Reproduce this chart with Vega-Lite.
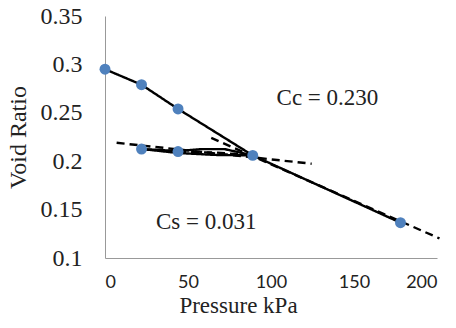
{
  "$schema": "https://vega.github.io/schema/vega-lite/v6.json",
  "width": 332,
  "height": 242,
  "autosize": {"type": "none"},
  "padding": {"left": 105, "top": 16, "right": 19, "bottom": 70},
  "background": "white",
  "config": {"view": {"stroke": null}},
  "datasets": {
    "pts": [
      {"p": 0, "e": 0.295},
      {"p": 22, "e": 0.279},
      {"p": 44, "e": 0.254},
      {"p": 89, "e": 0.206},
      {"p": 178, "e": 0.1365},
      {"p": 44, "e": 0.21},
      {"p": 22, "e": 0.2126}
    ],
    "lines": [
      {"series": "loading", "kind": "measured", "o": 1, "p": 0, "e": 0.295},
      {"series": "loading", "kind": "measured", "o": 2, "p": 22, "e": 0.279},
      {"series": "loading", "kind": "measured", "o": 3, "p": 44, "e": 0.254},
      {"series": "loading", "kind": "measured", "o": 4, "p": 89, "e": 0.206},
      {"series": "loading", "kind": "measured", "o": 5, "p": 178, "e": 0.1365},
      {"series": "unloading", "kind": "measured", "o": 1, "p": 89, "e": 0.206},
      {"series": "unloading", "kind": "measured", "o": 2, "p": 66, "e": 0.2065},
      {"series": "unloading", "kind": "measured", "o": 3, "p": 44, "e": 0.2085},
      {"series": "unloading", "kind": "measured", "o": 4, "p": 22, "e": 0.2126},
      {"series": "reloading", "kind": "measured", "o": 1, "p": 22, "e": 0.2126},
      {"series": "reloading", "kind": "measured", "o": 2, "p": 44, "e": 0.2105},
      {"series": "reloading", "kind": "measured", "o": 3, "p": 58, "e": 0.2125},
      {"series": "reloading", "kind": "measured", "o": 4, "p": 72, "e": 0.2125},
      {"series": "reloading", "kind": "measured", "o": 5, "p": 89, "e": 0.206},
      {"series": "Cc line", "kind": "fit", "o": 1, "p": 64, "e": 0.224},
      {"series": "Cc line", "kind": "fit", "o": 2, "p": 201.5, "e": 0.1202},
      {"series": "Cs line", "kind": "fit", "o": 1, "p": 7, "e": 0.219},
      {"series": "Cs line", "kind": "fit", "o": 2, "p": 124.5, "e": 0.1974},
      {"series": "mid line", "kind": "fit", "o": 1, "p": 44, "e": 0.2095},
      {"series": "mid line", "kind": "fit", "o": 2, "p": 66, "e": 0.209},
      {"series": "mid line", "kind": "fit", "o": 3, "p": 89, "e": 0.206}
    ],
    "labels": [
      {"p": 134, "e": 0.265, "text": "Cc = 0.230"},
      {"p": 61, "e": 0.137, "text": "Cs = 0.031"}
    ]
  },
  "layer": [
    {
      "data": {"name": "lines"},
      "mark": {"type": "line", "color": "black", "strokeWidth": 2.4},
      "encoding": {
        "x": {
          "field": "p", "type": "quantitative",
          "scale": {"domain": [0, 200], "nice": false},
          "axis": {
            "values": [0, 50, 100, 150, 200],
            "title": "Pressure kPa",
            "titleFont": "Liberation Serif", "titleFontSize": 23, "titleFontWeight": "normal", "titleColor": "#222",
            "titleX": 133, "titleY": 47, "titleAnchor": null, "titleAlign": "center", "titleBaseline": "middle",
            "labelFont": "Lato", "labelFontSize": 18, "labelColor": "#222",
            "labelPadding": 15,
            "ticks": false, "grid": false,
            "domainColor": "#999", "domainWidth": 1
          }
        },
        "y": {
          "field": "e", "type": "quantitative",
          "scale": {"domain": [0.1, 0.35], "nice": false},
          "axis": {
            "values": [0.1, 0.15, 0.2, 0.25, 0.3, 0.35],
            "format": "~g",
            "title": "Void Ratio",
            "titleFont": "Liberation Serif", "titleFontSize": 24, "titleFontWeight": "normal", "titleColor": "#222",
            "titleX": -87, "titleY": 121, "titleAnchor": null, "titleAlign": "center", "titleBaseline": "middle", "titleAngle": -90,
            "labelFont": "Liberation Serif", "labelFontSize": 24, "labelColor": "#222",
            "labelPadding": 23,
            "ticks": false, "grid": false,
            "domainColor": "#999", "domainWidth": 1
          }
        },
        "detail": {"field": "series"},
        "order": {"field": "o"},
        "strokeDash": {
          "field": "kind", "type": "nominal",
          "scale": {"domain": ["measured", "fit"], "range": [[1, 0], [8, 5]]},
          "legend": null
        }
      }
    },
    {
      "data": {"name": "pts"},
      "mark": {"type": "point", "filled": true, "shape": "circle", "size": 120, "color": "#4f81bd", "opacity": 1},
      "encoding": {
        "x": {"field": "p", "type": "quantitative"},
        "y": {"field": "e", "type": "quantitative"}
      }
    },
    {
      "data": {"name": "labels"},
      "mark": {"type": "text", "font": "Liberation Serif", "fontSize": 23, "color": "#222"},
      "encoding": {
        "x": {"field": "p", "type": "quantitative"},
        "y": {"field": "e", "type": "quantitative"},
        "text": {"field": "text"}
      }
    }
  ]
}
